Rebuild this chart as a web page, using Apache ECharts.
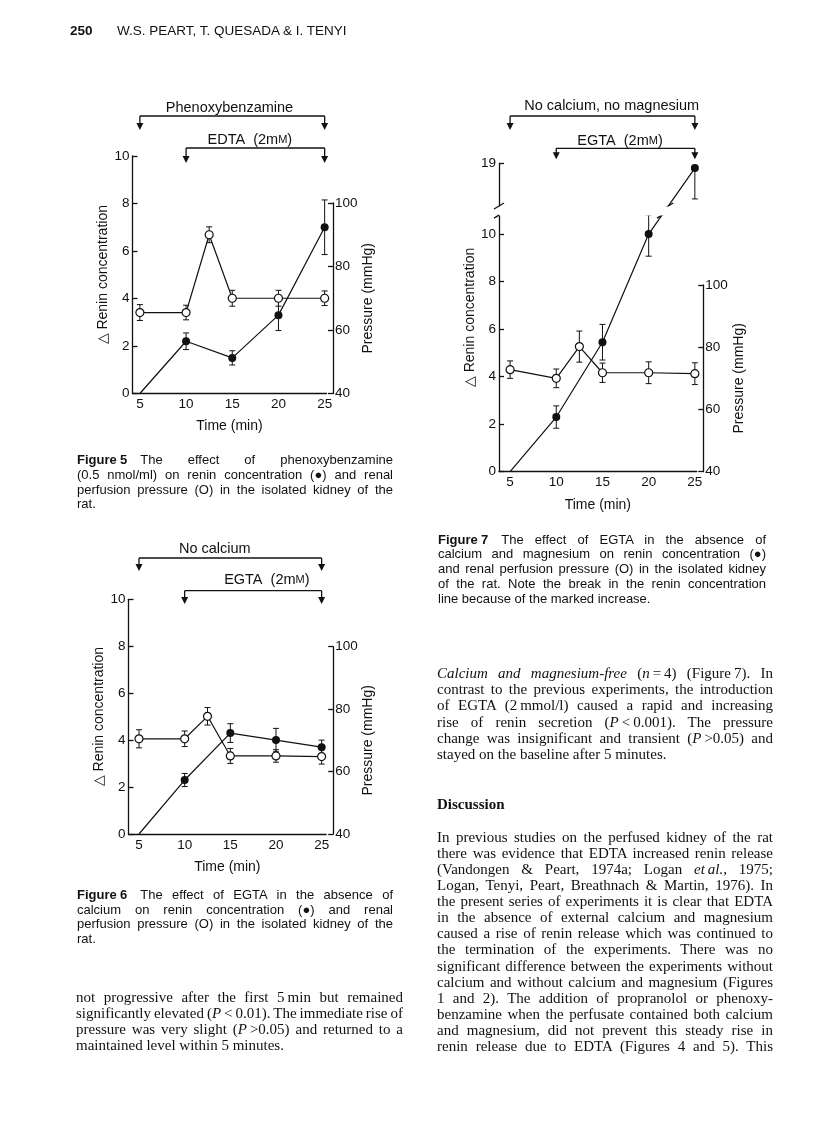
<!DOCTYPE html>
<html>
<head>
<meta charset="utf-8">
<title>Figures 5-7</title>
<script src="https://cdn.jsdelivr.net/npm/echarts@6.0.0/dist/echarts.min.js"></script>
<style>
  html, body { margin: 0; padding: 0; background: #fff; }
  #page { position: relative; width: 816px; height: 1136px; overflow: hidden; background: #fff; }
  #chart { position: absolute; left: 0; top: 0; width: 816px; height: 1136px; }
  .ln { position: absolute; white-space: nowrap; line-height: 16px; height: 16px; color: #111; }
  .sans { font-family: "Liberation Sans", Arial, sans-serif; font-size: 13px; }
  .head { font-family: "Liberation Sans", Arial, sans-serif; font-size: 13.5px; }
  .serif { font-family: "Liberation Serif", "Times New Roman", serif; font-size: 15px; }
</style>
</head>
<body>
<div id="page"><div id="chart"></div></div>
<script>
// 时间刻度
const timeTicks = [5, 10, 15, 20, 25];
const reninTimes = [5, 10, 15, 20, 25];
const pressureTimes = [5, 10, 12.5, 15, 20, 25];

// Figure 5
const fig5Renin = [0, 2.2, 1.5, 3.3, 7.0];
const fig5ReninErr = [0, 0.35, 0.3, 0.65, 1.15];
const fig5Pressure = [65.5, 65.5, 90, 70, 70, 70];
const fig5PressureErr = [2.5, 2.3, 2.5, 2.5, 2.5, 2.3];

// Figure 6
const fig6Renin = [0, 2.3, 4.3, 4.0, 3.7];
const fig6ReninErr = [0, 0.28, 0.4, 0.5, 0.3];
const fig6Pressure = [70.5, 70.5, 77.7, 65, 65, 64.8];
const fig6PressureErr = [2.9, 2.5, 2.8, 2.4, 2.0, 2.4];

// Figure 7
const fig7Renin = [0, 2.3, 5.45, 10.0, 18.8];
const fig7ReninErrUp = [0, 0.47, 0.75, 0.93, 0];
const fig7ReninErrDown = [0, 0.47, 0.75, 0.93, 1.3];
const fig7Pressure = [72.8, 70, 80.2, 71.8, 71.8, 71.5];
const fig7PressureErr = [2.8, 3.0, 5.0, 3.1, 3.5, 3.5];
const fig7ReninTicks = [0, 2, 4, 6, 8, 10, 19];
const fig7Break = [10.8, 17.2];

const fig5Brackets = ['Phenoxybenzamine', 'EDTA  (2m{sc|M})'];
const fig6Brackets = ['No calcium', 'EGTA  (2m{sc|M})'];
const fig7Brackets = ['No calcium, no magnesium', 'EGTA  (2m{sc|M})'];
const bracketFrom = [5, 10];
const bracketTo = [25, 25];

const FONT = '"Liberation Sans", Arial, sans-serif';
const ink = '#111';

// 版面位置
const figures = [
  {
    box: { left: 132.5, top: 156, width: 194, height: 237.5 }, pressTop: 203, xRange: [4.2, 25.2], rightOffset: 6.5,
    reninMax: 10, renin: fig5Renin, up: fig5ReninErr, down: fig5ReninErr,
    pressure: fig5Pressure, pErr: fig5PressureErr, brackets: fig5Brackets, textAt: [14.7, 16.9],
    levels: [{ bar: 40, tip: 26, text: 48 }, { bar: 8, tip: -7, text: 16 }]
  },
  {
    box: { left: 128.5, top: 599.3, width: 197.7, height: 234.7 }, pressTop: 646.7, xRange: [3.85, 25.5], rightOffset: 7,
    reninMax: 10, renin: fig6Renin, up: fig6ReninErr, down: fig6ReninErr,
    pressure: fig6Pressure, pErr: fig6PressureErr, brackets: fig6Brackets, textAt: [13.3, 19.0],
    levels: [{ bar: 41.3, tip: 28.3, text: 50.3 }, { bar: 8.6, tip: -4.7, text: 19.3 }]
  },
  {
    box: { left: 499, top: 163.3, width: 197.7, height: 308.4 }, pressTop: 285, xRange: [3.8, 25.2], rightOffset: 6.6,
    reninMax: 19, renin: fig7Renin, up: fig7ReninErrUp, down: fig7ReninErrDown,
    pressure: fig7Pressure, pErr: fig7PressureErr, brackets: fig7Brackets, textAt: [16.0, 16.9],
    levels: [{ bar: 47.3, tip: 33.3, text: 57.3 }, { bar: 15, tip: 4, text: 22.3 }],
    ticks: fig7ReninTicks, breakRange: fig7Break
  }
];

const lineStyle = { color: ink, width: 1.3 };
const labelStyle = { color: ink, fontFamily: FONT, fontSize: 13.5 };
const nameStyle = { color: ink, fontFamily: FONT, fontSize: 14 };

function errorBars(xi, yi, times, mean, up, down) {
  return {
    type: 'custom', xAxisIndex: xi, yAxisIndex: yi, z: 2, silent: true,
    data: times.map((t, i) => [t, mean[i] - down[i], mean[i] + up[i]]),
    encode: { x: 0, y: [1, 2] },
    renderItem: (params, api) => {
      const lo = api.coord([api.value(0), api.value(1)]);
      const hi = api.coord([api.value(0), api.value(2)]);
      if (Math.abs(hi[1] - lo[1]) < 0.5) return;
      const st = { stroke: ink, lineWidth: 1 };
      return {
        type: 'group', children: [
          { type: 'line', shape: { x1: lo[0], y1: lo[1], x2: hi[0], y2: hi[1] }, style: st },
          { type: 'line', shape: { x1: lo[0] - 3, y1: lo[1], x2: lo[0] + 3, y2: lo[1] }, style: st },
          { type: 'line', shape: { x1: hi[0] - 3, y1: hi[1], x2: hi[0] + 3, y2: hi[1] }, style: st }
        ]
      };
    }
  };
}

function bracketSeries(xi, f) {
  return {
    type: 'custom', xAxisIndex: xi, yAxisIndex: xi, z: 5, silent: true,
    data: f.brackets.map((b, i) => [bracketFrom[i], bracketTo[i], f.textAt[i], f.reninMax]),
    encode: { x: [0, 1, 2], y: 3 },
    renderItem: (params, api) => {
      const i = params.dataIndex;
      const lv = f.levels[i];
      const top = api.coord([api.value(0), api.value(3)])[1];
      const x1 = api.coord([api.value(0), 0])[0];
      const x2 = api.coord([api.value(1), 0])[0];
      const xt = api.coord([api.value(2), 0])[0];
      const yBar = top - lv.bar, yTip = top - lv.tip;
      const st = { stroke: ink, lineWidth: 1.3 };
      const arrow = x => [
        { type: 'line', shape: { x1: x, y1: yBar, x2: x, y2: yTip - 5 }, style: st },
        { type: 'polygon', shape: { points: [[x - 3.5, yTip - 7], [x + 3.5, yTip - 7], [x, yTip]] }, style: { fill: ink } }
      ];
      return {
        type: 'group', children: [
          { type: 'line', shape: { x1: x1, y1: yBar, x2: x2, y2: yBar }, style: st },
          ...arrow(x1), ...arrow(x2),
          {
            type: 'text', x: xt, y: top - lv.text,
            style: {
              text: f.brackets[i], fill: ink, fontFamily: FONT, fontSize: 14.5,
              align: 'center', verticalAlign: 'middle',
              rich: { sc: { fontSize: 11, fontFamily: FONT, fill: ink } }
            }
          }
        ]
      };
    }
  };
}

const grid = [], xAxis = [], yAxis = [], series = [];

figures.forEach((f, k) => {
  const a = 2 * k, b = 2 * k + 1;
  const bottom = f.box.top + f.box.height;
  grid.push({ left: f.box.left, top: f.box.top, width: f.box.width, height: f.box.height, containLabel: false, outerBoundsMode: 'none' });
  grid.push({ left: f.box.left, top: f.pressTop, width: f.box.width, height: bottom - f.pressTop, containLabel: false, outerBoundsMode: 'none' });

  xAxis.push({
    type: 'value', gridIndex: a, min: f.xRange[0], max: f.xRange[1],
    axisLine: { show: true, onZero: false, lineStyle: lineStyle },
    axisTick: { show: false },
    axisLabel: { customValues: timeTicks, margin: 4, ...labelStyle },
    splitLine: { show: false },
    name: 'Time (min)', nameLocation: 'middle', nameGap: 26, nameTextStyle: nameStyle
  });
  xAxis.push({ type: 'value', gridIndex: b, min: f.xRange[0], max: f.xRange[1], show: false });

  const reninAxis = {
    type: 'value', gridIndex: a, min: 0, max: f.reninMax, interval: 2, position: 'left',
    axisLine: { show: true, lineStyle: lineStyle },
    axisTick: { show: true, inside: true, length: 5, lineStyle: lineStyle },
    axisLabel: { margin: 3, ...labelStyle },
    splitLine: { show: false },
    name: '\u25B3 Renin concentration', nameLocation: 'middle', nameRotate: 90, nameGap: 15, nameTextStyle: nameStyle
  };
  if (f.ticks) {
    reninAxis.axisLabel.customValues = f.ticks;
    reninAxis.axisTick.customValues = f.ticks;
  }
  if (f.breakRange) {
    // gap 以数据单位计
    reninAxis.breaks = [{ start: f.breakRange[0], end: f.breakRange[1], gap: 0.38 }];
    reninAxis.breakArea = {
      show: true, expandOnClick: false, zigzagAmplitude: 0,
      itemStyle: { color: '#fff', borderColor: '#fff', borderWidth: 0, opacity: 1 }
    };
  }
  yAxis.push(reninAxis);
  yAxis.push({
    type: 'value', gridIndex: b, min: 40, max: 100, interval: 20, position: 'right', offset: f.rightOffset,
    axisLine: { show: true, lineStyle: lineStyle },
    axisTick: { show: true, inside: true, length: 5, lineStyle: lineStyle },
    axisLabel: { margin: 2, ...labelStyle },
    splitLine: { show: false },
    name: 'Pressure (mmHg)', nameLocation: 'middle', nameRotate: 90, nameGap: 23, nameTextStyle: nameStyle
  });

  series.push(errorBars(a, a, reninTimes, f.renin, f.up, f.down));
  series.push(errorBars(b, b, pressureTimes, f.pressure, f.pErr, f.pErr));
  series.push({
    type: 'line', xAxisIndex: a, yAxisIndex: a, z: 3, silent: true,
    data: reninTimes.map((t, i) => i === 0 ? { value: [t, f.renin[i]], symbol: 'none' } : [t, f.renin[i]]),
    symbol: 'circle', symbolSize: 8, showSymbol: true,
    lineStyle: { color: ink, width: 1.2 }, itemStyle: { color: ink }
  });
  series.push({
    type: 'line', xAxisIndex: b, yAxisIndex: b, z: 4, silent: true,
    data: pressureTimes.map((t, i) => [t, f.pressure[i]]),
    symbol: 'circle', symbolSize: 8, showSymbol: true,
    lineStyle: { color: ink, width: 1.2 }, itemStyle: { color: '#fff', borderColor: ink, borderWidth: 1.2 }
  });
  series.push(bracketSeries(a, f));
});

// Figure 7 断轴标记
series.push({
  type: 'custom', xAxisIndex: 4, yAxisIndex: 4, z: 10, silent: true,
  data: [[figures[2].xRange[0], fig7Break[0], fig7Break[1]]],
  encode: { x: 0, y: [1, 2] },
  renderItem: (params, api) => {
    const lo = api.coord([api.value(0), api.value(1)]);
    const hi = api.coord([api.value(0), api.value(2)]);
    const p = api.coord([reninTimes[3], fig7Renin[3]]);
    const q = api.coord([reninTimes[4], fig7Renin[4]]);
    const xAt = y => p[0] + (q[0] - p[0]) * (y - p[1]) / (q[1] - p[1]);
    const slash = (x, y) => ({ type: 'line', shape: { x1: x - 5, y1: y + 3, x2: x + 5, y2: y - 3 }, style: { stroke: ink, lineWidth: 1.3 } });
    return {
      type: 'group', children: [
        slash(lo[0], lo[1]), slash(hi[0], hi[1]),
        slash(xAt(lo[1]), lo[1]), slash(xAt(hi[1]), hi[1])
      ]
    };
  }
});

const chart = echarts.init(document.getElementById('chart'));
chart.setOption({ animation: false, backgroundColor: 'transparent', grid, xAxis, yAxis, series });

// 页面文字
const page = document.getElementById('page');
function addLine(html, x, yc, w, cls, justify) {
  const d = document.createElement('div');
  d.className = 'ln ' + cls;
  d.style.left = x + 'px';
  d.style.top = (yc - 8) + 'px';
  d.innerHTML = html;
  page.appendChild(d);
  if (justify) {
    const nat = d.getBoundingClientRect().width;
    const spaces = (d.textContent.match(/ /g) || []).length;
    if (spaces) d.style.wordSpacing = ((w - nat) / spaces) + 'px';
  }
}
function addBlock(lines, x, y0, step, w, cls, lastJustify) {
  lines.forEach((l, i) => addLine(l, x, y0 + i * step, w, cls, i < lines.length - 1 || lastJustify));
}

// 左右两栏
const L = 77, LCW = 316, LBW = 327, R = 437, RCW = 328, RBW = 336;

addLine('<b>250</b>', 70, 31, 0, 'head', false);
addLine('W.S. PEART, T. QUESADA &amp; I. TENYI', 117, 31, 0, 'head', false);

addBlock([
  '<b>Figure\u20055</b>\u2003The effect of phenoxybenzamine',
  '(0.5 nmol/ml) on renin concentration (\u25CF) and renal',
  'perfusion pressure (O) in the isolated kidney of the',
  'rat.'
], L, 460, 14.8, LCW, 'sans', false);

addBlock([
  '<b>Figure\u20056</b>\u2003The effect of EGTA in the absence of',
  'calcium on renin concentration (\u25CF) and renal',
  'perfusion pressure (O) in the isolated kidney of the',
  'rat.'
], L, 895, 14.5, LCW, 'sans', false);

addBlock([
  '<b>Figure\u20057</b>\u2003The effect of EGTA in the absence of',
  'calcium and magnesium on renin concentration (\u25CF)',
  'and renal perfusion pressure (O) in the isolated kidney',
  'of the rat. Note the break in the renin concentration',
  'line because of the marked increase.'
], R + 1, 539.5, 14.8, RCW, 'sans', false);

addBlock([
  'not progressive after the first 5\u2009min but remained',
  'significantly elevated (<i>P</i>\u2009&lt;\u20090.01). The immediate rise of',
  'pressure was very slight (<i>P</i>\u2009&gt;0.05) and returned to a',
  'maintained level within 5 minutes.'
], L - 1, 997, 16.1, LBW, 'serif', false);

addBlock([
  '<i>Calcium and magnesium-free</i> (<i>n</i>\u2009=\u20094) (Figure\u20097). In',
  'contrast to the previous experiments, the introduction',
  'of EGTA (2\u2009mmol/l) caused a rapid and increasing',
  'rise of renin secretion (<i>P</i>\u2009&lt;\u20090.001). The pressure',
  'change was insignificant and transient (<i>P</i>\u2009&gt;0.05) and',
  'stayed on the baseline after 5 minutes.'
], R, 673, 16.2, RBW, 'serif', false);

addLine('<b>Discussion</b>', R, 804, 0, 'serif', false);

addBlock([
  'In previous studies on the perfused kidney of the rat',
  'there was evidence that EDTA increased renin release',
  '(Vandongen &amp; Peart, 1974a; Logan <i>et\u2009al.</i>, 1975;',
  'Logan, Tenyi, Peart, Breathnach &amp; Martin, 1976). In',
  'the present series of experiments it is clear that EDTA',
  'in the absence of external calcium and magnesium',
  'caused a rise of renin release which was continued to',
  'the termination of the experiments. There was no',
  'significant difference between the experiments without',
  'calcium and without calcium and magnesium (Figures',
  '1 and 2). The addition of propranolol or phenoxy-',
  'benzamine when the perfusate contained both calcium',
  'and magnesium, did not prevent this steady rise in',
  'renin release due to EDTA (Figures 4 and 5). This'
], R, 836.7, 16.1, RBW, 'serif', true);
</script>
</body>
</html>
